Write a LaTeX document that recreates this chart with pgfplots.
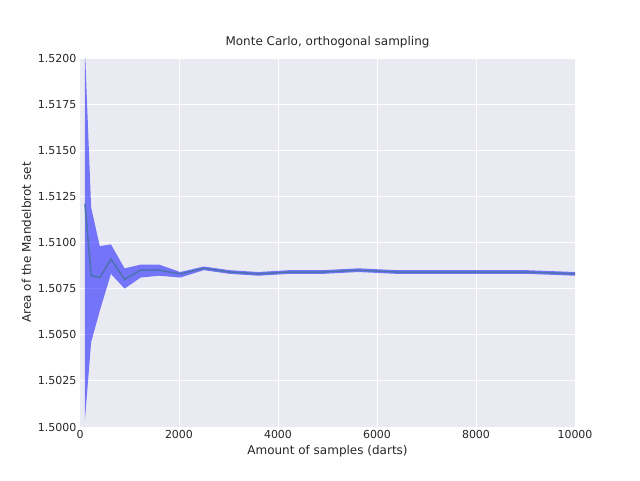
\documentclass[border=0pt]{standalone}
\usepackage{pgfplots}
\pgfplotsset{compat=1.18}
\usepackage{fontspec}
\setmainfont{DejaVu Sans}
\definecolor{bg}{HTML}{EAEAF2}
\definecolor{ln}{HTML}{4C72B0}
\begin{document}
\begin{tikzpicture}
\path[use as bounding box] (-80pt,-53pt) rectangle (560pt,427pt);
\begin{axis}[at={(0,0)},anchor=south west,
 width=495pt,height=369pt,scale only axis,
 xmin=0,xmax=10000,ymin=1.5,ymax=1.52,
 axis background/.style={fill=bg},axis line style={draw=none},
 grid=major,grid style={white,line width=1pt},
 tick style={draw=none},
 xtick={0,2000,4000,6000,8000,10000},
 ytick={1.5,1.5025,1.505,1.5075,1.51,1.5125,1.515,1.5175,1.52},
 yticklabel style={/pgf/number format/.cd,fixed,fixed zerofill,precision=4,1000 sep={}},
 xticklabel style={/pgf/number format/.cd,1000 sep={}},
 /pgf/number format/assume math mode=true,
 ticklabel style={font=\fontsize{11}{13}\selectfont,text=black!85},
 scaled y ticks=false,scaled x ticks=false,
 xlabel={Amount of samples (darts)},ylabel={Area of the Mandelbrot set},
 label style={font=\fontsize{12}{14}\selectfont,text=black!85},
 title={Monte Carlo, orthogonal sampling},
 title style={font=\fontsize{12}{14}\selectfont,text=black!85}]
\addplot[fill=blue,fill opacity=0.5,draw=none] coordinates {(100,1.5205)(225,1.5119)(400,1.5098)(625,1.5099)(900,1.5086)(1225,1.5088)(1600,1.5088)(2025,1.5084)(2500,1.5087)(3025,1.5085)(3600,1.5084)(4225,1.5085)(4900,1.5085)(5625,1.5086)(6400,1.5085)(7225,1.5085)(8100,1.5085)(9025,1.5085)(10000,1.5084)
(10000,1.5082)(9025,1.5083)(8100,1.5083)(7225,1.5083)(6400,1.5083)(5625,1.5084)(4900,1.5083)(4225,1.5083)(3600,1.5082)(3025,1.5083)(2500,1.5085)(2025,1.5081)(1600,1.5082)(1225,1.5081)(900,1.5075)(625,1.5083)(400,1.5063)(225,1.5046)(100,1.5004)} -- cycle;
\addplot[ln,line width=1.5pt] coordinates {(100,1.5121)(225,1.5082)(400,1.5081)(625,1.5091)(900,1.5080)(1225,1.5085)(1600,1.5085)(2025,1.5083)(2500,1.5086)(3025,1.5084)(3600,1.5083)(4225,1.5084)(4900,1.5084)(5625,1.5085)(6400,1.5084)(7225,1.5084)(8100,1.5084)(9025,1.5084)(10000,1.5083)};
\end{axis}
\end{tikzpicture}
\end{document}
